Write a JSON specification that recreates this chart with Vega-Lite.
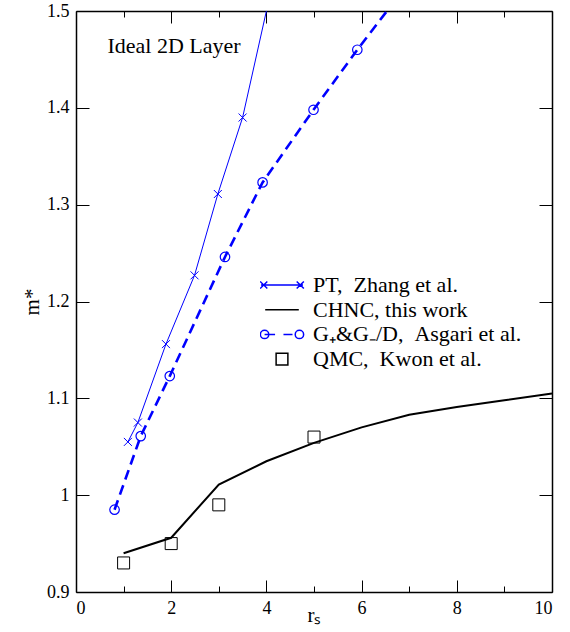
{
  "$schema": "https://vega.github.io/schema/vega-lite/v6.json",
  "width": 476,
  "height": 581,
  "autosize": "none",
  "padding": {"left": 76, "top": 11, "right": 18, "bottom": 40},
  "background": "white",
  "config": {
    "view": {"stroke": null},
    "font": "Liberation Serif",
    "axis": {
      "labelFont": "Liberation Serif",
      "titleFont": "Liberation Serif",
      "labelColor": "black",
      "titleColor": "black",
      "domainColor": "black",
      "tickColor": "black",
      "grid": false,
      "labelFontSize": 18,
      "titleFontSize": 21,
      "titleFontWeight": "normal",
      "domainWidth": 1.5,
      "tickWidth": 1
    }
  },
  "resolve": {"axis": {"x": "independent", "y": "independent"}},
  "layer": [
    {
      "data": {"values": [
        {"rs": 1, "m": 0.940}, {"rs": 2, "m": 0.956}, {"rs": 3, "m": 1.011},
        {"rs": 4, "m": 1.035}, {"rs": 5, "m": 1.054}, {"rs": 6, "m": 1.070},
        {"rs": 7, "m": 1.083}, {"rs": 8, "m": 1.091}, {"rs": 9, "m": 1.098},
        {"rs": 10, "m": 1.105}
      ]},
      "mark": {"type": "line", "color": "black", "strokeWidth": 2},
      "encoding": {
        "x": {"field": "rs", "type": "quantitative",
          "scale": {"domain": [0, 10], "nice": false, "zero": false},
          "axis": {"orient": "bottom", "values": [0, 2, 4, 6, 8, 10], "tickSize": -12, "labelPadding": 19, "title": "rₛ", "titlePadding": -13}},
        "y": {"field": "m", "type": "quantitative",
          "scale": {"domain": [0.9, 1.5], "nice": false, "zero": false},
          "axis": {"orient": "left", "values": [0.9, 1, 1.1, 1.2, 1.3, 1.4, 1.5], "format": "~f", "tickSize": -13, "labelPadding": 20, "title": "m*", "titlePadding": 4}}
      }
    },
    {
      "data": {"values": [
        {"rs": 1, "m": 0.930}, {"rs": 2, "m": 0.950}, {"rs": 3, "m": 0.990}, {"rs": 5, "m": 1.060}
      ]},
      "mark": {"type": "point", "shape": "square", "size": 144, "filled": false, "color": "black", "strokeWidth": 1, "opacity": 1},
      "encoding": {
        "x": {"field": "rs", "type": "quantitative",
          "scale": {"domain": [0, 10], "nice": false, "zero": false},
          "axis": {"orient": "bottom", "values": [1, 3, 5, 7, 9], "tickSize": -6, "labels": false, "domain": false, "title": null}},
        "y": {"field": "m", "type": "quantitative",
          "scale": {"domain": [0.9, 1.5], "nice": false, "zero": false},
          "axis": {"orient": "right", "values": [0.9, 1, 1.1, 1.2, 1.3, 1.4, 1.5], "tickSize": -13, "labels": false, "title": null}}
      }
    },
    {
      "data": {"values": [
        {"rs": 1.09, "m": 1.055}, {"rs": 1.30, "m": 1.075}, {"rs": 1.89, "m": 1.156},
        {"rs": 2.49, "m": 1.227}, {"rs": 2.98, "m": 1.311}, {"rs": 3.50, "m": 1.390},
        {"rs": 4.50, "m": 1.610}
      ]},
      "mark": {"type": "line", "color": "#0000ff", "strokeWidth": 1, "clip": true},
      "encoding": {
        "x": {"field": "rs", "type": "quantitative",
          "scale": {"domain": [0, 10], "nice": false, "zero": false},
          "axis": {"orient": "top", "values": [0, 2, 4, 6, 8, 10], "tickSize": -12, "labels": false, "title": null}},
        "y": {"field": "m", "type": "quantitative",
          "scale": {"domain": [0.9, 1.5], "nice": false, "zero": false},
          "axis": null}
      }
    },
    {
      "data": {"values": [
        {"rs": 1.09, "m": 1.055}, {"rs": 1.30, "m": 1.075}, {"rs": 1.89, "m": 1.156},
        {"rs": 2.49, "m": 1.227}, {"rs": 2.98, "m": 1.311}, {"rs": 3.50, "m": 1.390},
        {"rs": 4.50, "m": 1.610}
      ]},
      "mark": {"type": "point", "shape": "M-1,-1L1,1M-1,1L1,-1", "size": 64, "filled": false, "color": "#0000ff", "strokeWidth": 1, "opacity": 1, "clip": true},
      "encoding": {
        "x": {"field": "rs", "type": "quantitative",
          "scale": {"domain": [0, 10], "nice": false, "zero": false},
          "axis": {"orient": "top", "values": [1, 3, 5, 7, 9], "tickSize": -6, "labels": false, "domain": false, "title": null}},
        "y": {"field": "m", "type": "quantitative",
          "scale": {"domain": [0.9, 1.5], "nice": false, "zero": false},
          "axis": null}
      }
    },
    {
      "data": {"values": [
        {"rs": 0.81, "m": 0.985}, {"rs": 1.36, "m": 1.061}, {"rs": 1.97, "m": 1.123},
        {"rs": 3.13, "m": 1.246}, {"rs": 3.92, "m": 1.323}, {"rs": 4.99, "m": 1.398},
        {"rs": 5.91, "m": 1.460}, {"rs": 7.0, "m": 1.530}
      ]},
      "mark": {"type": "line", "color": "#0000ff", "strokeWidth": 2.6, "strokeDash": [10, 6], "clip": true},
      "encoding": {
        "x": {"field": "rs", "type": "quantitative",
          "scale": {"domain": [0, 10], "nice": false, "zero": false}, "axis": null},
        "y": {"field": "m", "type": "quantitative",
          "scale": {"domain": [0.9, 1.5], "nice": false, "zero": false}, "axis": null}
      }
    },
    {
      "data": {"values": [
        {"rs": 0.81, "m": 0.985}, {"rs": 1.36, "m": 1.061}, {"rs": 1.97, "m": 1.123},
        {"rs": 3.13, "m": 1.246}, {"rs": 3.92, "m": 1.323}, {"rs": 4.99, "m": 1.398},
        {"rs": 5.91, "m": 1.460}, {"rs": 7.0, "m": 1.530}
      ]},
      "mark": {"type": "point", "shape": "circle", "size": 90, "filled": false, "color": "#0000ff", "strokeWidth": 1.2, "opacity": 1, "clip": true},
      "encoding": {
        "x": {"field": "rs", "type": "quantitative",
          "scale": {"domain": [0, 10], "nice": false, "zero": false}, "axis": null},
        "y": {"field": "m", "type": "quantitative",
          "scale": {"domain": [0.9, 1.5], "nice": false, "zero": false}, "axis": null}
      }
    },
    {
      "data": {"values": [{"label": "Ideal 2D Layer"}]},
      "mark": {"type": "text", "align": "left", "baseline": "alphabetic", "font": "Liberation Serif", "fontSize": 22, "color": "black"},
      "encoding": {
        "x": {"datum": 0.66, "type": "quantitative",
          "scale": {"domain": [0, 10], "nice": false, "zero": false}, "axis": null},
        "y": {"datum": 1.457, "type": "quantitative",
          "scale": {"domain": [0.9, 1.5], "nice": false, "zero": false}, "axis": null},
        "text": {"field": "label"}
      }
    },
    {
      "data": {"values": []},
      "mark": {"type": "point", "filled": false, "opacity": 1},
      "encoding": {
        "color": {"field": "series", "type": "nominal",
          "scale": {"domain": ["PT, \u00a0Zhang et al.", "CHNC, this work", "G₊&G₋/D, \u00a0Asgari et al.", "QMC, \u00a0Kwon et al."],
                    "range": ["#0000ff", "black", "#0000ff", "black"]},
          "legend": {
            "title": null, "orient": "none", "legendX": 184, "legendY": 262,
            "padding": 0, "symbolSize": 1764, "symbolStrokeWidth": 1.5,
            "labelFont": "Liberation Serif", "labelFontSize": 22, "labelColor": "black",
            "labelOffset": 9, "labelLimit": 400, "clipHeight": 24, "rowPadding": 0.7
          }},
        "shape": {"field": "series", "type": "nominal",
          "scale": {"domain": ["PT, \u00a0Zhang et al.", "CHNC, this work", "G₊&G₋/D, \u00a0Asgari et al.", "QMC, \u00a0Kwon et al."],
                    "range": [
                      "M-1,0H1M-1.04,-0.17L-0.7,0.17M-1.04,0.17L-0.7,-0.17M0.7,-0.17L1.04,0.17M0.7,0.17L1.04,-0.17",
                      "M-0.8,0H0.8",
                      "M-0.63,0A0.2,0.2 0 1,1 -1.03,0A0.2,0.2 0 1,1 -0.63,0M-0.83,0H-0.33M0.07,0H0.5M1.03,0A0.2,0.2 0 1,1 0.63,0A0.2,0.2 0 1,1 1.03,0",
                      "M-0.28,-0.28H0.28V0.28H-0.28Z"
                    ]},
          "legend": {
            "title": null, "orient": "none", "legendX": 184, "legendY": 262,
            "padding": 0, "symbolSize": 1764, "symbolStrokeWidth": 1.5,
            "labelFont": "Liberation Serif", "labelFontSize": 22, "labelColor": "black",
            "labelOffset": 9, "labelLimit": 400, "clipHeight": 24, "rowPadding": 0.7
          }}
      }
    }
  ]
}
